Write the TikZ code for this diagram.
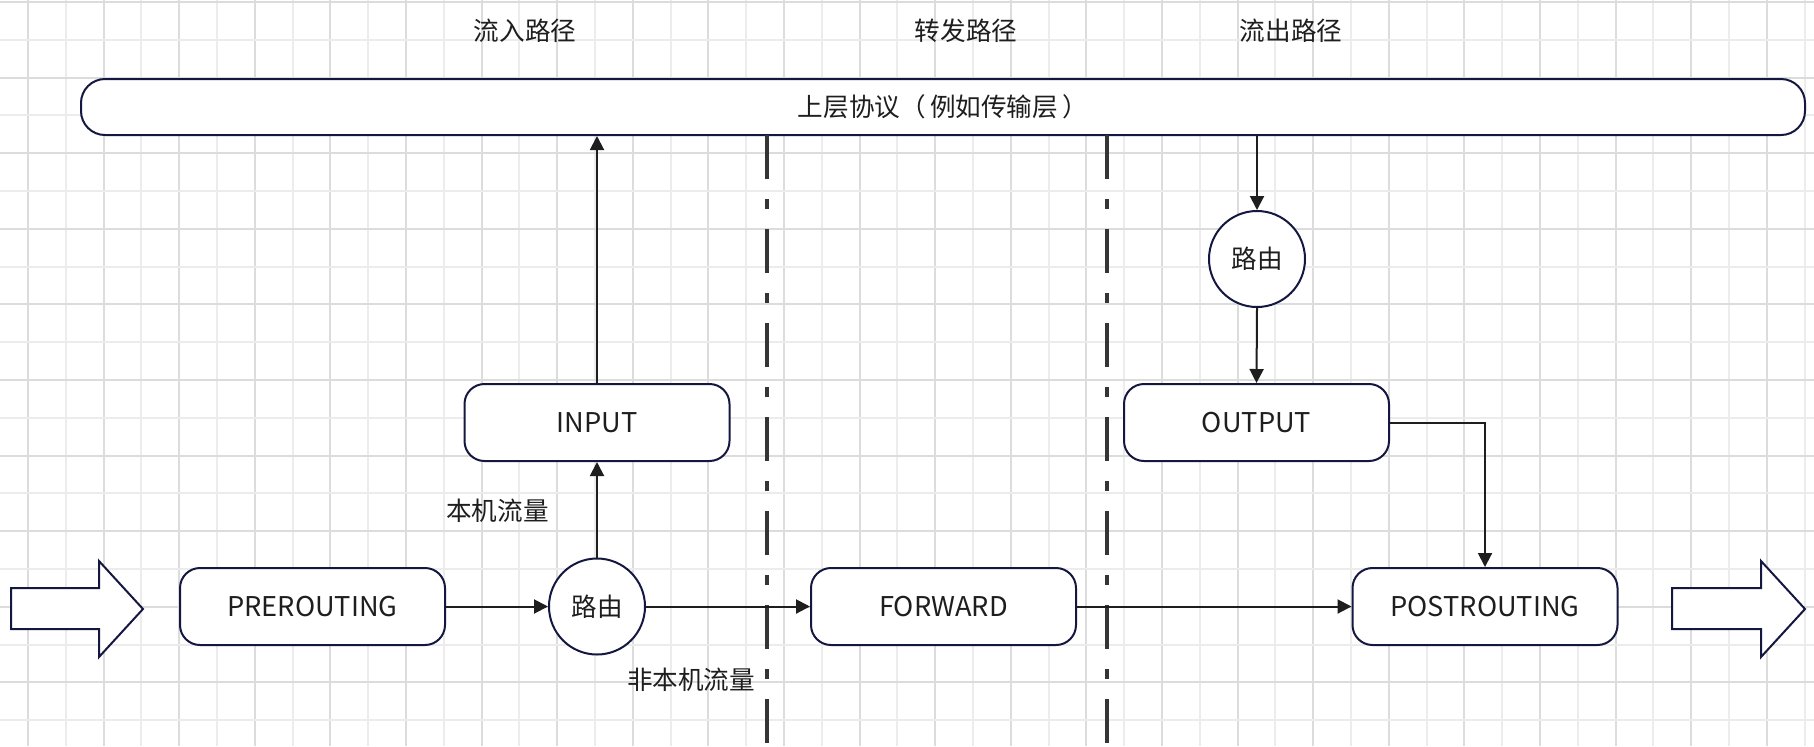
\documentclass[tikz,border=0pt]{standalone}
\usepackage{fontspec}
\setmainfont{Noto Sans CJK SC}
\usetikzlibrary{arrows.meta}
\definecolor{edgeblue}{RGB}{20,24,64}
\definecolor{inkgray}{RGB}{30,30,30}
\definecolor{gridA}{RGB}{220,220,220}
\definecolor{gridB}{RGB}{236,236,236}
\tikzset{
  chainbox/.style={draw=edgeblue,fill=white,line width=1pt,rounded corners=10pt,
    minimum width=132.5pt,minimum height=38.5pt,text=inkgray,inner sep=0pt,
    font=\fontsize{13.6pt}{16pt}\selectfont},
  routecircle/.style={draw=edgeblue,fill=white,line width=1pt,circle,
    minimum size=48pt,text=inkgray,inner sep=0pt},
  flow/.style={draw=inkgray,line width=1pt,-{Triangle[length=7pt,width=7pt]}},
  pathsep/.style={draw=inkgray!90,line width=2pt,dash pattern=on 22pt off 10pt on 5pt off 10pt},
  bigarrow/.style={draw=edgeblue,fill=white,line width=1pt,line join=miter},
  lbl/.style={text=inkgray,inner sep=0pt}
}
\begin{document}
\begin{tikzpicture}[x=0.5pt,y=-0.5pt,font=\fontsize{12.8pt}{15pt}\selectfont]
\useasboundingbox (0,0) rectangle (1814,746);
\fill[white] (0,0) rectangle (1814,746);
% grid
\foreach \i in {0,...,47}{
  \pgfmathsetmacro{\gx}{28+37.8*\i}
  \ifodd\i \def\gc{gridB}\else \def\gc{gridA}\fi
  \draw[\gc,line width=1pt] (\gx,0) -- (\gx,746);
}
\foreach \j in {0,...,19}{
  \pgfmathsetmacro{\gy}{2+37.8*\j}
  \ifodd\j \def\gc{gridB}\else \def\gc{gridA}\fi
  \draw[\gc,line width=1pt] (0,\gy) -- (1814,\gy);
}
% path titles
\node[lbl] (tin)  at (525,31) {流入路径};
\node[lbl] (tfwd) at (966,31) {转发路径};
\node[lbl] (tout) at (1291,31) {流出路径};
% upper layer
\node[chainbox,minimum width=862pt,minimum height=28pt,rounded corners=12pt,
  font=\fontsize{12.8pt}{15pt}\selectfont] (upper) at (943,107) {上层协议（\,例如传输层\,）};
% separators
\draw[pathsep] (767,135) -- (767,746);
\draw[pathsep] (1107,135) -- (1107,746);
% chains
\node[chainbox] (prerouting)  at (312.5,606.5) {PREROUTING};
\node[routecircle] (routein)  at (597,606.5) {路由};
\node[chainbox] (input)       at (597,422.5) {INPUT};
\node[chainbox] (forward)     at (943.5,606.5) {FORWARD};
\node[routecircle] (routeout) at (1257,259) {路由};
\node[chainbox] (output)      at (1256.5,422.5) {OUTPUT};
\node[chainbox] (postrouting) at (1485,606.5) {POSTROUTING};
% traffic labels
\node[lbl] (local)    at (497.5,511) {本机流量};
\node[lbl] (nonlocal) at (691,680) {非本机流量};
% in / out arrows
\draw[bigarrow] (11,588) -- (99,588) -- (99,561) -- (143,609) -- (99,657) -- (99,629) -- (11,629) -- cycle;
\draw[bigarrow] (1672,588) -- (1761,588) -- (1761,561) -- (1805,609) -- (1761,657) -- (1761,629) -- (1672,629) -- cycle;
% connectors
\draw[flow] (prerouting.east) -- (routein.west);
\draw[flow] (routein.east) -- (forward.west);
\draw[flow] (routein.north) -- (input.south);
\draw[flow] (input.north) -- (input.north |- upper.south);
\draw[flow] (routeout.north |- upper.south) -- (routeout.north);
\draw[flow] (routeout.south) -- (output.north);
\draw[flow] (output.east) -| (postrouting.north);
\draw[flow] (forward.east) -- (postrouting.west);
\end{tikzpicture}
\end{document}
